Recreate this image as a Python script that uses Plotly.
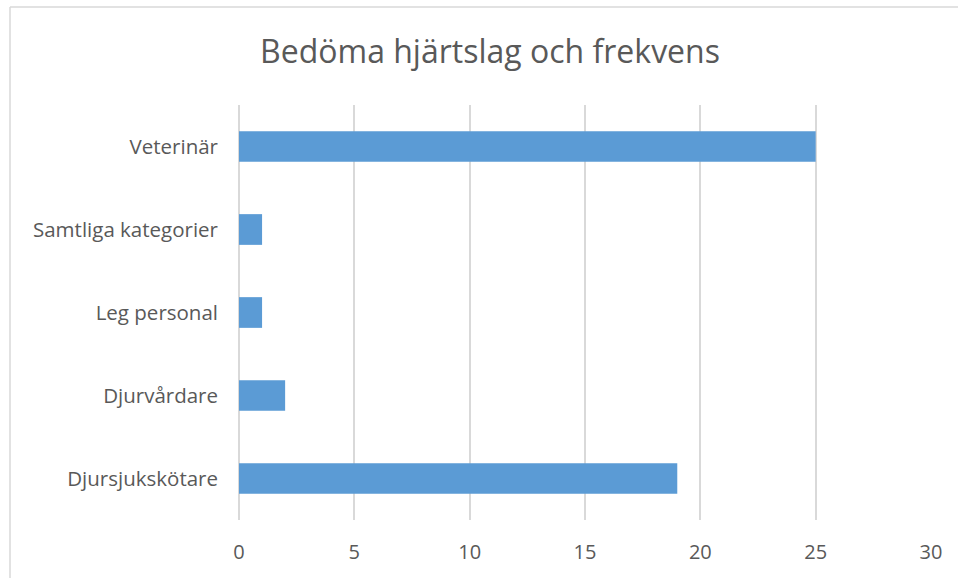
import plotly.graph_objects as go

categories = ["Djursjukskötare", "Djurvårdare", "Leg personal", "Samtliga kategorier", "Veterinär"]
values = [19, 2, 1, 1, 25]
x_ticks = [0, 5, 10, 15, 20, 25, 30]

L, R, T, B = 239, 27, 105, 58
W, H = 958, 578
pw, ph = W - L - R, H - T - B

fig = go.Figure(go.Bar(
    y=categories, x=values, orientation="h",
    marker=dict(color="#5b9bd5", line=dict(width=0)),
))

font_fam = "Open Sans, Noto Sans, sans-serif"
fig.update_layout(
    width=W, height=H,
    margin=dict(l=L, r=R, t=T, b=B, pad=0),
    paper_bgcolor="white", plot_bgcolor="white",
    bargap=0.63,
    showlegend=False,
    title=dict(text="Bedöma hjärtslag och frekvens", x=490 / W, xanchor="center",
               y=1 - 52 / H, yanchor="middle",
               font=dict(family=font_fam, size=32, color="#595959")),
    xaxis=dict(range=[0, 30], tickvals=x_ticks, showgrid=True, gridcolor="#d9d9d9", gridwidth=1.5,
               zeroline=True, zerolinecolor="#d9d9d9", zerolinewidth=1.5, showline=False,
               ticks="", ticklabelstandoff=18,
               tickfont=dict(family=font_fam, size=20, color="#595959")),
    yaxis=dict(showgrid=False, showline=False, ticks="", ticklabelstandoff=20,
               tickfont=dict(family=font_fam, size=20.5, color="#595959")),
)

# chart border (left and top edges visible in the reference)
x_left = (10 - L) / pw
y_top = (H - B - 7) / ph
fig.add_shape(type="line", xref="paper", yref="paper", x0=x_left, x1=(W + 5 - L) / pw, y0=y_top, y1=y_top,
              line=dict(color="#d9d9d9", width=1.5))
fig.add_shape(type="line", xref="paper", yref="paper", x0=x_left, x1=x_left, y0=y_top, y1=-(B + 5) / ph,
              line=dict(color="#d9d9d9", width=1.5))

fig.write_html("out.html", config={"displayModeBar": False},
               post_script="document.body.style.margin='0px';")
